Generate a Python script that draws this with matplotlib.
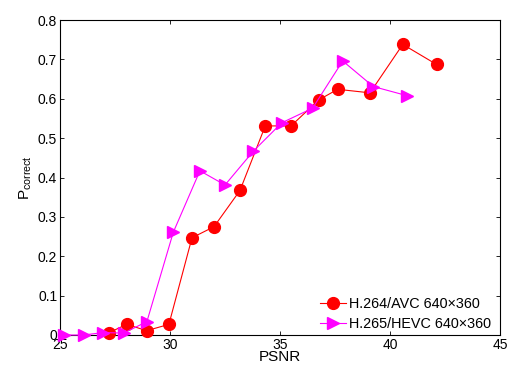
import matplotlib
matplotlib.use("Agg")
import matplotlib.pyplot as plt

plt.rcParams['font.family'] = ['Liberation Sans', 'DejaVu Sans']
plt.rcParams['mathtext.default'] = 'regular'

avc_psnr = [27.23, 28.03, 28.94, 29.95, 31.0, 32.0, 33.18, 34.33, 35.5, 36.76, 37.62, 39.09, 40.58, 42.12]
avc_p = [0.006, 0.027, 0.011, 0.027, 0.247, 0.275, 0.367, 0.531, 0.531, 0.597, 0.624, 0.615, 0.738, 0.687]

hevc_psnr = [25.2, 26.07, 26.95, 27.9, 28.95, 30.15, 31.36, 32.5, 33.79, 35.08, 36.48, 37.85, 39.24, 40.76]
hevc_p = [0.0, 0.0, 0.006, 0.005, 0.034, 0.261, 0.417, 0.381, 0.467, 0.539, 0.576, 0.696, 0.631, 0.608]

labels = ['H.264/AVC 640×360', 'H.265/HEVC 640×360']
xticks = [25, 30, 35, 40, 45]
yticks = [0, 0.1, 0.2, 0.3, 0.4, 0.5, 0.6, 0.7, 0.8]
ytick_labels = ['0', '0.1', '0.2', '0.3', '0.4', '0.5', '0.6', '0.7', '0.8']

fig = plt.figure(figsize=(5.08, 3.68), dpi=100)
ax = fig.add_axes([60/508, 33/368, 440/508, 315/368])

ax.plot(avc_psnr, avc_p, color='#ff0000', marker='o', markersize=8.5,
        markerfacecolor='#ff0000', markeredgecolor='#ff0000', linewidth=0.8,
        label=labels[0], clip_on=False, zorder=3)
ax.plot(hevc_psnr, hevc_p, color='#ff00ff', marker='>', markersize=9,
        markerfacecolor='#ff00ff', markeredgecolor='#ff00ff', linewidth=0.8,
        label=labels[1], clip_on=False, zorder=3)

ax.set_xlim(25, 45)
ax.set_ylim(0, 0.8)
ax.set_xticks(xticks)
ax.set_yticks(yticks)
ax.set_yticklabels(ytick_labels)
ax.tick_params(direction='in', top=True, right=True, length=3, width=0.6,
               labelsize=10, pad=2)
for s in ax.spines.values():
    s.set_linewidth(0.8)

ax.set_xlabel('PSNR', fontsize=11, labelpad=-1)
ax.set_ylabel(r'P$_{correct}$', fontsize=11, labelpad=3)

leg = ax.legend(loc='lower right', frameon=False, fontsize=10.4,
                handlelength=1.8, handletextpad=0.2, labelspacing=0.4,
                borderaxespad=0.0, borderpad=0.3, bbox_to_anchor=(0.99, 0.0))

fig.savefig('out.png', dpi=100)
